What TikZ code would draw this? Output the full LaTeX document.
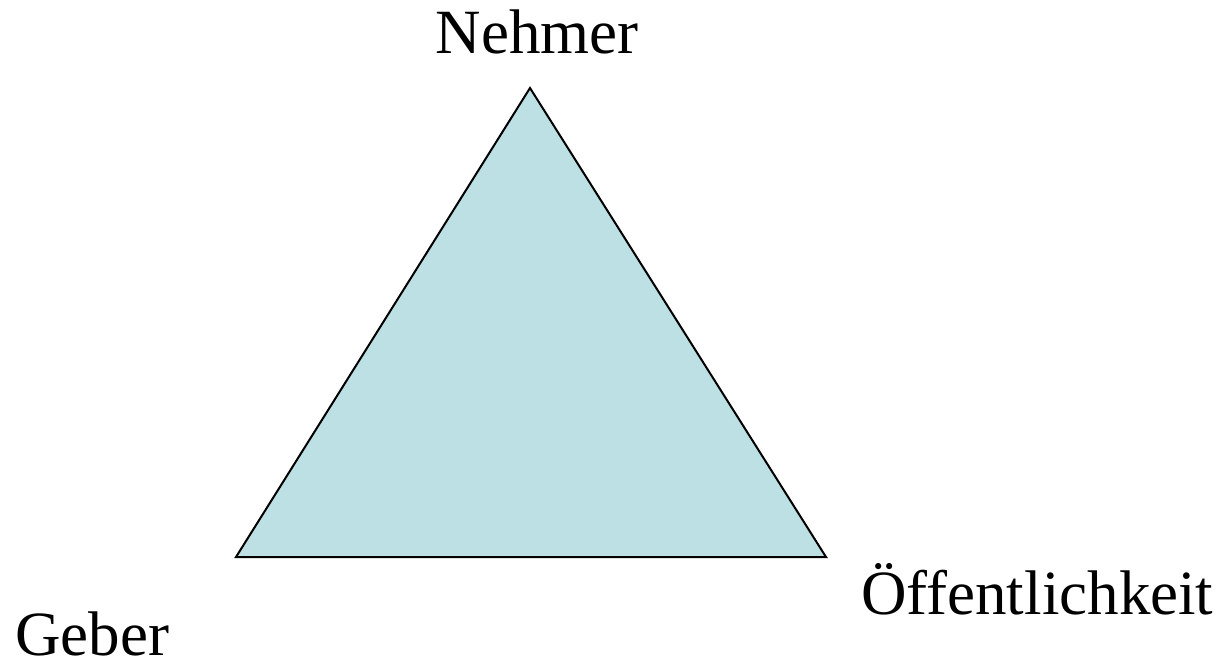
\documentclass[tikz,border=0pt]{standalone}
\usepackage{fontspec}
\setmainfont{Liberation Serif}
\usepackage{xcolor}
\usetikzlibrary{positioning}
\definecolor{dreieck}{HTML}{BCE0E3}
\tikzset{
  ecke/.style={fill=dreieck,draw=black,line width=2pt,line join=miter},
  rolle/.style={inner sep=0pt,font=\fontsize{63}{70}\selectfont}
}

\begin{document}
\begin{tikzpicture}[x=1pt,y=-1pt]
  \useasboundingbox (0,0) rectangle (1226,664);
  \coordinate (nehmerEcke) at (530,88);
  \coordinate (geberEcke) at (236,557);
  \coordinate (oeffEcke) at (826,557);
  \filldraw[ecke] (nehmerEcke) -- (oeffEcke) -- (geberEcke) -- cycle;
  \foreach \n/\x/\y/\a/\lab in {
     nehmer/537/53/base/{Nehmer},
     oeff/861/614/base west/{Öffentlichkeit},
     geber/15/655/base west/{Geber}}
  { \node[rolle,anchor=\a] (\n) at (\x,\y) {\lab}; }
\end{tikzpicture}
\end{document}
